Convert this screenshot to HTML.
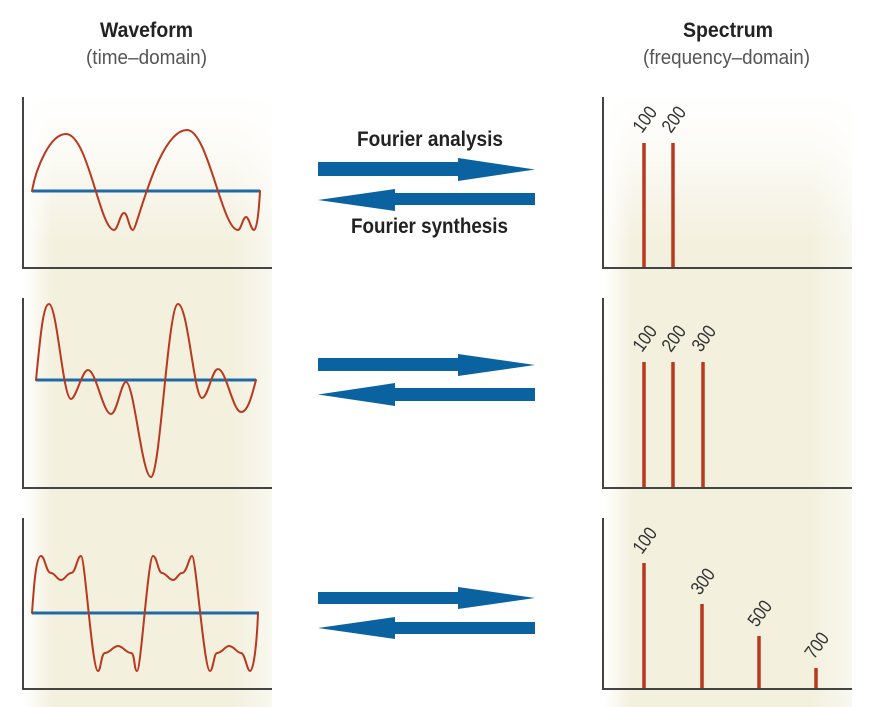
<!DOCTYPE html>
<html>
<head>
<meta charset="utf-8">
<style>
  html,body{margin:0;padding:0;background:#fff;}
  svg{display:block;}
  text{font-family:"Liberation Sans", Arial, sans-serif;}
</style>
</head>
<body>
<svg width="884" height="707" viewBox="0 0 884 707" xmlns="http://www.w3.org/2000/svg">
  <defs>
    <linearGradient id="hg" x1="0" y1="0" x2="1" y2="0">
      <stop offset="0" stop-color="#ffffff"/>
      <stop offset="0.12" stop-color="#f3f0de"/>
      <stop offset="0.84" stop-color="#f3f0de"/>
      <stop offset="1" stop-color="#f9f8ef"/>
    </linearGradient>
    <linearGradient id="vg" x1="0" y1="0" x2="0" y2="1">
      <stop offset="0" stop-color="#ffffff" stop-opacity="1"/>
      <stop offset="0.35" stop-color="#ffffff" stop-opacity="0.75"/>
      <stop offset="1" stop-color="#ffffff" stop-opacity="0"/>
    </linearGradient>
  </defs>

  <rect x="0" y="0" width="884" height="707" fill="#fff"/>

  <!-- beige columns -->
  <rect x="23" y="95" width="249" height="612" fill="url(#hg)"/>
  <rect x="603" y="95" width="249" height="612" fill="url(#hg)"/>
  <rect x="20" y="94" width="256" height="150" fill="url(#vg)"/>
  <rect x="600" y="94" width="256" height="150" fill="url(#vg)"/>

  <!-- titles -->
  <text x="100" y="37" font-size="21" font-weight="bold" fill="#222" textLength="93" lengthAdjust="spacingAndGlyphs">Waveform</text>
  <text x="86" y="64" font-size="20" fill="#555" textLength="121" lengthAdjust="spacingAndGlyphs">(time–domain)</text>
  <text x="683" y="37" font-size="21" font-weight="bold" fill="#222" textLength="90" lengthAdjust="spacingAndGlyphs">Spectrum</text>
  <text x="643" y="64" font-size="20" fill="#555" textLength="167" lengthAdjust="spacingAndGlyphs">(frequency–domain)</text>

  <text x="357" y="146" font-size="21" font-weight="bold" fill="#222" textLength="146" lengthAdjust="spacingAndGlyphs">Fourier analysis</text>
  <text x="351" y="233" font-size="21" font-weight="bold" fill="#222" textLength="157" lengthAdjust="spacingAndGlyphs">Fourier synthesis</text>

  <!-- arrows -->
  <g fill="#0b62a1">
    <polygon points="318,162 458,162 458,158 535,169.5 458,181 458,176 318,176"/>
    <polygon points="535,193 395,193 395,189 318,200 395,211 395,205 535,205"/>
    <polygon points="318,358 458,358 458,354 535,365 458,376 458,371 318,371"/>
    <polygon points="535,388 395,388 395,383 318,394.5 395,406 395,401 535,401"/>
    <polygon points="318,592 458,592 458,587 535,598 458,609 458,604 318,604"/>
    <polygon points="535,622 395,622 395,617 318,628 395,639 395,634 535,634"/>
  </g>

  <!-- axes -->
  <g stroke="#444" stroke-width="2" fill="none">
    <polyline points="23,97 23,268 272,268"/>
    <polyline points="23,298 23,488 272,488"/>
    <polyline points="23,518 23,689 272,689"/>
    <polyline points="603,97 603,268 852,268"/>
    <polyline points="603,298 603,488 852,488"/>
    <polyline points="603,518 603,689 852,689"/>
  </g>

  <!-- blue zero lines -->
  <g stroke="#1d6aa7" stroke-width="3">
    <line x1="32" y1="191" x2="260" y2="191"/>
    <line x1="36" y1="380" x2="256" y2="380"/>
    <line x1="32" y1="613" x2="259" y2="613"/>
  </g>

  <!-- waves -->
  <g stroke="#b8391f" stroke-width="2" fill="none" stroke-linejoin="round" stroke-linecap="round">
    <path d="M32,191 C36,168 50,134 66,134 C88,134 100,230 114,230 C118,230 120,213 124,213 C128,213 129,230 133,230 C137,230 158,130 187,130 C208,130 222,230 238,230 C241,230 243,217 246,217 C249,217 251,230 254,230 C257,230 259,210 260,191"/>
    <path d="M36,380 C40,340 43,304 49,304 C57,304 63,399 71,399 C76,399 82,370 88,370 C96,370 103,414 111,414 C117,414 121,382 126,382 C134,382 142,477 151,477 C160,477 168,304 178,304 C188,304 194,398 202,398 C208,398 212,369 218,369 C226,369 233,412 241,412 C248,412 252,395 256,380"/>
    <path d="M32,613 C34,585 36,556 41,556 C45,556 46,573 51,573 C55,573 57,580 61,580 C65,580 67,573 71,573 C76,573 77,556 81,556 C85,556 92,671 98,671 C101,671 101,653 105,653 C110,653 113,646 118,646 C123,646 126,653 131,653 C135,653 134,671 137,671 C141,671 148,556 153,556 C157,556 158,573 162,573 C166,573 169,580 173,580 C177,580 178,573 182,573 C187,573 189,556 192,556 C196,556 204,671 210,671 C213,671 214,653 217,653 C222,653 225,646 229,646 C234,646 237,653 241,653 C245,653 247,671 250,671 C254,671 257,640 258,613"/>
  </g>

  <!-- spectrum bars -->
  <g stroke="#b8391f" stroke-width="3.5">
    <line x1="644" y1="143" x2="644" y2="267"/>
    <line x1="673" y1="143" x2="673" y2="267"/>

    <line x1="644" y1="362" x2="644" y2="487"/>
    <line x1="673" y1="362" x2="673" y2="487"/>
    <line x1="703" y1="362" x2="703" y2="487"/>

    <line x1="644" y1="563" x2="644" y2="688"/>
    <line x1="702" y1="604" x2="702" y2="688"/>
    <line x1="759" y1="636" x2="759" y2="688"/>
    <line x1="816" y1="668" x2="816" y2="688"/>
  </g>

  <!-- spectrum labels -->
  <g font-size="19" fill="#333">
    <text transform="translate(642,134) rotate(-54)" textLength="27" lengthAdjust="spacingAndGlyphs">100</text>
    <text transform="translate(671,134) rotate(-54)" textLength="27" lengthAdjust="spacingAndGlyphs">200</text>

    <text transform="translate(642,353) rotate(-54)" textLength="27" lengthAdjust="spacingAndGlyphs">100</text>
    <text transform="translate(671,353) rotate(-54)" textLength="27" lengthAdjust="spacingAndGlyphs">200</text>
    <text transform="translate(701,353) rotate(-54)" textLength="27" lengthAdjust="spacingAndGlyphs">300</text>

    <text transform="translate(642,555) rotate(-54)" textLength="27" lengthAdjust="spacingAndGlyphs">100</text>
    <text transform="translate(700,596) rotate(-54)" textLength="27" lengthAdjust="spacingAndGlyphs">300</text>
    <text transform="translate(757,628) rotate(-54)" textLength="27" lengthAdjust="spacingAndGlyphs">500</text>
    <text transform="translate(814,660) rotate(-54)" textLength="27" lengthAdjust="spacingAndGlyphs">700</text>
  </g>
</svg>
</body>
</html>
